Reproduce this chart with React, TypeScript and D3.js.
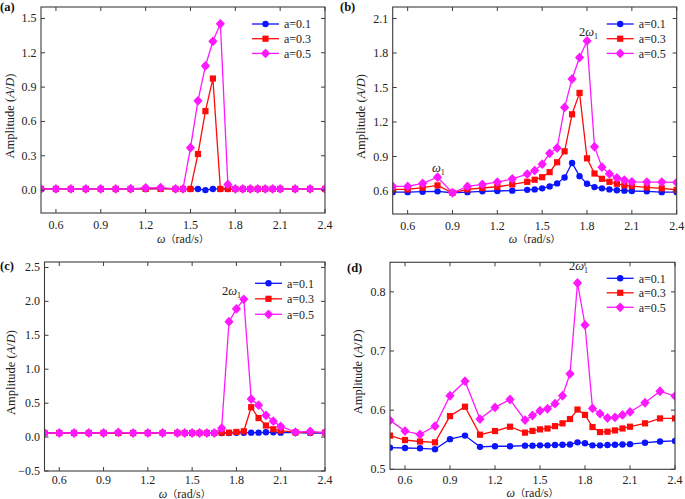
import React from "react";
import * as d3 from "d3";

const OMEGA = [0.5, 0.6, 0.7, 0.8, 0.9, 1.0, 1.1, 1.2, 1.3, 1.4, 1.45, 1.5, 1.55, 1.6, 1.65, 1.7, 1.75, 1.8, 1.85, 1.9, 1.95, 2.0, 2.05, 2.1, 2.2, 2.3, 2.4];
const SERIES_NAMES = ["a=0.1", "a=0.3", "a=0.5"];
const X_TICKS = [0.6, 0.9, 1.2, 1.5, 1.8, 2.1, 2.4];

const A_01 = [0.01, 0.01, 0.01, 0.01, 0.01, 0.01, 0.01, 0.01, 0.015, 0.01, 0.01, 0.01, 0.01, 0.0, 0.01, 0.01, 0.01, 0.01, 0.01, 0.01, 0.01, 0.01, 0.01, 0.01, 0.01, 0.01, 0.01];
const A_03 = [0.01, 0.01, 0.01, 0.01, 0.01, 0.01, 0.01, 0.01, 0.01, 0.01, 0.01, 0.01, 0.315, 0.69, 0.975, 0.01, 0.01, 0.01, 0.01, 0.01, 0.01, 0.01, 0.01, 0.01, 0.01, 0.01, 0.01];
const A_05 = [0.01, 0.01, 0.01, 0.01, 0.01, 0.01, 0.012, 0.02, 0.022, 0.01, 0.01, 0.37, 0.78, 1.085, 1.3, 1.453, 0.05, 0.01, 0.01, 0.01, 0.01, 0.01, 0.01, 0.01, 0.01, 0.01, 0.01];

const B_01 = [0.59, 0.59, 0.594, 0.597, 0.585, 0.59, 0.597, 0.6, 0.603, 0.61, 0.614, 0.623, 0.64, 0.666, 0.718, 0.844, 0.729, 0.663, 0.634, 0.623, 0.614, 0.606, 0.603, 0.6, 0.597, 0.59, 0.59];
const B_03 = [0.614, 0.614, 0.629, 0.649, 0.585, 0.614, 0.626, 0.637, 0.657, 0.68, 0.698, 0.72, 0.764, 0.85, 0.945, 1.267, 1.453, 0.884, 0.752, 0.706, 0.68, 0.663, 0.649, 0.643, 0.632, 0.623, 0.611];
const B_05 = [0.64, 0.64, 0.666, 0.72, 0.585, 0.64, 0.657, 0.678, 0.706, 0.747, 0.778, 0.833, 0.928, 0.974, 1.327, 1.574, 1.761, 1.905, 0.985, 0.807, 0.749, 0.715, 0.695, 0.68, 0.678, 0.678, 0.675];

const C_01 = [0.06, 0.06, 0.06, 0.06, 0.06, 0.06, 0.06, 0.06, 0.06, 0.06, 0.06, 0.06, 0.06, 0.06, 0.06, 0.06, 0.06, 0.062, 0.062, 0.065, 0.065, 0.07, 0.07, 0.065, 0.065, 0.06, 0.06];
const C_03 = [0.06, 0.06, 0.06, 0.06, 0.06, 0.06, 0.06, 0.06, 0.06, 0.06, 0.06, 0.06, 0.06, 0.06, 0.06, 0.065, 0.065, 0.075, 0.085, 0.44, 0.28, 0.17, 0.115, 0.095, 0.07, 0.07, 0.065];
const C_05 = [0.06, 0.06, 0.06, 0.06, 0.06, 0.07, 0.06, 0.06, 0.06, 0.06, 0.06, 0.06, 0.06, 0.06, 0.06, 0.13, 1.7, 1.89, 2.03, 0.56, 0.47, 0.32, 0.235, 0.157, 0.073, 0.083, 0.064];

const D_01 = [0.5366, 0.536, 0.5355, 0.534, 0.551, 0.557, 0.538, 0.539, 0.539, 0.54, 0.54, 0.5405, 0.5405, 0.541, 0.5415, 0.542, 0.5456, 0.544, 0.5405, 0.5405, 0.541, 0.5415, 0.542, 0.5425, 0.545, 0.547, 0.548];
const D_03 = [0.557, 0.5495, 0.547, 0.5456, 0.59, 0.6058, 0.5585, 0.5647, 0.572, 0.562, 0.565, 0.5675, 0.569, 0.573, 0.5777, 0.585, 0.601, 0.592, 0.5715, 0.563, 0.5636, 0.5658, 0.569, 0.572, 0.5777, 0.586, 0.586];
const D_05 = [0.5827, 0.5647, 0.559, 0.573, 0.6244, 0.649, 0.585, 0.6047, 0.618, 0.5833, 0.591, 0.599, 0.6024, 0.611, 0.6244, 0.6615, 0.815, 0.744, 0.603, 0.594, 0.5867, 0.5878, 0.592, 0.597, 0.6125, 0.632, 0.6238];

const COLORS = ["#0a14ff", "#ff0a0a", "#ff19ff"];
const FONT = "Liberation Serif, Times New Roman, serif";
const CJK = "Noto Sans CJK SC, sans-serif";

type Ann = { text: string; sub: string; x: number; y: number };
type Panel = {
  id: string; label: string; left: number; right: number; top: number; bottom: number;
  yDomain: [number, number]; yTicks: number[]; yFmt: string; series: number[][];
  legend: { x0: number; y0: number; dy: number };
  labelPos: [number, number]; yTitleX: number; xLabelDy: number; xTitleDy: number;
  anns: Ann[];
};

const PANELS: Panel[] = [
  { id: "a", label: "(a)", left: 41, right: 325, top: 7, bottom: 213, yDomain: [-0.2, 1.6], yTicks: [0, 0.3, 0.6, 0.9, 1.2, 1.5], yFmt: ".1f",
    series: [A_01, A_03, A_05], legend: { x0: 252, y0: 24, dy: 14.7 }, labelPos: [0, 11], yTitleX: 14, xLabelDy: 16, xTitleDy: 30, anns: [] },
  { id: "b", label: "(b)", left: 392.7, right: 676.7, top: 7, bottom: 214, yDomain: [0.4, 2.2], yTicks: [0.6, 0.9, 1.2, 1.5, 1.8, 2.1], yFmt: ".1f",
    series: [B_01, B_03, B_05], legend: { x0: 606.7, y0: 24, dy: 14.7 }, labelPos: [340, 11], yTitleX: 365, xLabelDy: 15.5, xTitleDy: 29,
    anns: [{ text: "2ω", sub: "1", x: 579, y: 36 }, { text: "ω", sub: "1", x: 432, y: 172 }] },
  { id: "c", label: "(c)", left: 44.5, right: 325, top: 262, bottom: 471, yDomain: [-0.5, 2.58], yTicks: [-0.5, 0, 0.5, 1, 1.5, 2, 2.5], yFmt: ".1f",
    series: [C_01, C_03, C_05], legend: { x0: 255, y0: 283.3, dy: 15.5 }, labelPos: [0, 270], yTitleX: 15, xLabelDy: 13, xTitleDy: 26.5,
    anns: [{ text: "2ω", sub: "1", x: 222, y: 295 }] },
  { id: "d", label: "(d)", left: 390, right: 675, top: 262.3, bottom: 469.3, yDomain: [0.5, 0.85], yTicks: [0.5, 0.6, 0.7, 0.8], yFmt: ".1f",
    series: [D_01, D_03, D_05], legend: { x0: 606.7, y0: 278.3, dy: 14.5 }, labelPos: [347, 272], yTitleX: 362, xLabelDy: 14.5, xTitleDy: 28,
    anns: [{ text: "2ω", sub: "1", x: 569, y: 269.5 }] },
];

function Marker({ kind, x, y, color }: { kind: number; x: number; y: number; color: string }) {
  if (kind === 0) return <circle cx={x} cy={y} r={3.2} fill={color} />;
  if (kind === 1) return <rect x={x - 3.1} y={y - 3.1} width={6.2} height={6.2} fill={color} />;
  return (
    <g transform={`translate(${x},${y})`}>
      <path d="M0,-4.9L4.6,0L0,4.9L-4.6,0Z" fill={color} />
      <circle r={3.1} fill={color} />
    </g>
  );
}

function PanelView({ p }: { p: Panel }) {
  const x = d3.scaleLinear().domain([0.5, 2.4]).range([p.left, p.right]);
  const y = d3.scaleLinear().domain(p.yDomain).range([p.bottom, p.top]);
  const line = d3.line<number>().x((_, i) => x(OMEGA[i])).y((v) => y(v));
  const fmt = d3.format(p.yFmt);
  const axisColor = "#3c3c3c";
  const tl = 4;
  const clipId = `clip-${p.id}`;
  const cx = (p.left + p.right) / 2;
  const cy = (p.top + p.bottom) / 2 + 6;
  const txt = { fontFamily: FONT, fill: "#222" } as React.CSSProperties;
  return (
    <g>
      <defs>
        <clipPath id={clipId}>
          <rect x={p.left} y={p.top} width={p.right - p.left} height={p.bottom - p.top} />
        </clipPath>
      </defs>
      <g clipPath={`url(#${clipId})`}>
        {p.series.map((s, k) => (
          <g key={k}>
            <path d={line(s) || ""} fill="none" stroke={COLORS[k]} strokeWidth={1.3} />
            {s.map((v, i) => (
              <Marker key={i} kind={k} x={x(OMEGA[i])} y={y(v)} color={COLORS[k]} />
            ))}
          </g>
        ))}
      </g>
      <rect x={p.left} y={p.top} width={p.right - p.left} height={p.bottom - p.top} fill="none" stroke={axisColor} strokeWidth={1.1} />
      {X_TICKS.map((t) => (
        <g key={"x" + t}>
          <line x1={x(t)} x2={x(t)} y1={p.bottom} y2={p.bottom - tl} stroke={axisColor} strokeWidth={1} />
          <line x1={x(t)} x2={x(t)} y1={p.top} y2={p.top + tl} stroke={axisColor} strokeWidth={1} />
          <text x={x(t)} y={p.bottom + p.xLabelDy} textAnchor="middle" fontSize={12} style={txt}>{t.toFixed(1)}</text>
        </g>
      ))}
      {p.yTicks.map((t) => (
        <g key={"y" + t}>
          <line x1={p.left} x2={p.left + tl} y1={y(t)} y2={y(t)} stroke={axisColor} strokeWidth={1} />
          <line x1={p.right} x2={p.right - tl} y1={y(t)} y2={y(t)} stroke={axisColor} strokeWidth={1} />
          <text x={p.left - 4.5} y={y(t) + 4} textAnchor="end" fontSize={12} style={txt}>{fmt(t)}</text>
        </g>
      ))}
      <text x={cx} y={p.bottom + p.xTitleDy} textAnchor="middle" fontSize={12} style={txt}>
        <tspan fontStyle="italic">ω</tspan>
        <tspan style={{ fontFamily: CJK }} fontSize={10}>（</tspan>
        <tspan>rad/s</tspan>
        <tspan style={{ fontFamily: CJK }} fontSize={10}>）</tspan>
      </text>
      <text transform={`translate(${p.yTitleX},${cy}) rotate(-90)`} textAnchor="middle" fontSize={12.5} style={txt}>
        Amplitude (<tspan fontStyle="italic">A</tspan>/<tspan fontStyle="italic">D</tspan>)
      </text>
      <text x={p.labelPos[0]} y={p.labelPos[1]} fontSize={12.5} fontWeight="bold" style={{ fontFamily: FONT, fill: "#111" }}>{p.label}</text>
      {SERIES_NAMES.map((n, k) => {
        const ly = p.legend.y0 + k * p.legend.dy;
        return (
          <g key={n}>
            <line x1={p.legend.x0} x2={p.legend.x0 + 27} y1={ly} y2={ly} stroke={COLORS[k]} strokeWidth={1.3} />
            <Marker kind={k} x={p.legend.x0 + 13.5} y={ly} color={COLORS[k]} />
            <text x={p.legend.x0 + 32} y={ly + 4.2} fontSize={12} style={txt}>{n}</text>
          </g>
        );
      })}
      {p.anns.map((a, i) => (
        <text key={i} x={a.x} y={a.y} fontSize={12.5} style={txt}>
          {a.text.startsWith("2") ? <tspan>2</tspan> : null}
          <tspan fontStyle="italic">ω</tspan>
          <tspan fontSize={8} dy={3}>{a.sub}</tspan>
        </text>
      ))}
    </g>
  );
}

export default function App() {
  return (
    <svg width={685} height={499} style={{ position: "absolute", left: 0, top: 0, background: "#fff" }}>
      <rect width={685} height={499} fill="#fff" />
      {PANELS.map((p) => (
        <PanelView key={p.id} p={p} />
      ))}
    </svg>
  );
}
